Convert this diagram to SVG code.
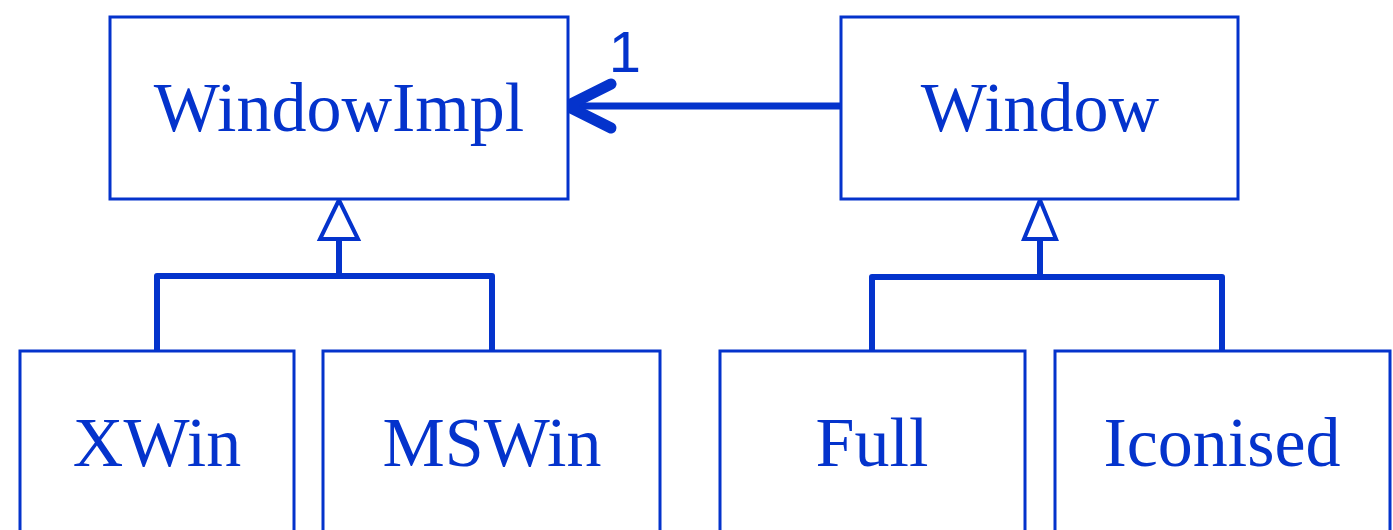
<svg xmlns="http://www.w3.org/2000/svg" width="1393" height="530" viewBox="0 0 1393 530">
<style>
.box{fill:#fff;stroke:#0433cc;stroke-width:3}
.lbl{font-family:"Liberation Serif",serif;font-size:70px;fill:#0433cc;text-anchor:middle}
.ln{fill:none;stroke:#0433cc;stroke-width:6;stroke-linecap:round;stroke-linejoin:round}
.tri{fill:#fff;stroke:#0433cc;stroke-width:4}
</style>
<rect width="1393" height="530" fill="#fff"/>
<g id="connectors">
<path class="ln" d="M157,351 V276 H492 V351 M339,276 V240"/>
<polygon class="tri" points="339,200 320,239 358,239"/>
<path class="ln" d="M872,351 V277 H1222 V351 M1040,277 V240"/>
<polygon class="tri" points="1040,200 1024,239 1056,239"/>
<path class="ln" d="M841,106 H567" style="stroke-width:7"/>
<path class="ln" d="M611,84 L567,106 L611,128" style="stroke-width:11"/>
<text x="625" y="72" font-family="Liberation Sans,sans-serif" font-size="58" fill="#0433cc" text-anchor="middle">1</text>
</g>
<g id="WindowImpl"><rect class="box" x="110" y="17" width="458" height="182"/><text class="lbl" x="339" y="131">WindowImpl</text></g>
<g id="Window"><rect class="box" x="841" y="17" width="397" height="182"/><text class="lbl" x="1040" y="131">Window</text></g>
<g id="XWin"><rect class="box" x="20" y="351" width="274" height="200"/><text class="lbl" x="157" y="466">XWin</text></g>
<g id="MSWin"><rect class="box" x="323" y="351" width="337" height="200"/><text class="lbl" x="492" y="466">MSWin</text></g>
<g id="Full"><rect class="box" x="720" y="351" width="305" height="200"/><text class="lbl" x="872" y="466">Full</text></g>
<g id="Iconised"><rect class="box" x="1055" y="351" width="335" height="200"/><text class="lbl" x="1222" y="466">Iconised</text></g>
</svg>
